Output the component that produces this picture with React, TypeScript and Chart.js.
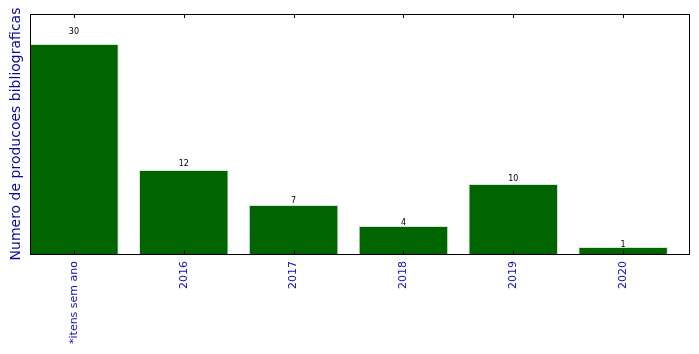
import React, { useEffect, useRef } from "react";
import { Chart, registerables } from "chart.js";

Chart.register(...registerables);

const categories = ["*itens sem ano", "2016", "2017", "2018", "2019", "2020"];
const values = [30, 12, 7, 4, 10, 1];
const yMax = 34.3;

const framePlugin = {
  id: "frame",
  afterDatasetsDraw(chart: any) {
    const { ctx, chartArea } = chart;
    const xs = chart.scales.x;
    const meta = chart.getDatasetMeta(0);
    ctx.save();
    // value labels
    ctx.fillStyle = "#000";
    ctx.font = "8px 'DejaVu Sans'";
    ctx.textAlign = "center";
    ctx.textBaseline = "bottom";
    values.forEach((v, i) => {
      const el = meta.data[i];
      const y = chart.scales.y.getPixelForValue(v * 1.05);
      ctx.fillText(String(v), el.x, y + 2.5);
    });
    // ticks inward
    ctx.strokeStyle = "#000";
    ctx.lineWidth = 1;
    categories.forEach((_, i) => {
      const x = Math.round(xs.getPixelForValue(i)) + 0.5;
      ctx.beginPath();
      ctx.moveTo(x, chartArea.bottom);
      ctx.lineTo(x, chartArea.bottom - 4);
      ctx.moveTo(x, chartArea.top);
      ctx.lineTo(x, chartArea.top + 4);
      ctx.stroke();
    });
    // frame
    ctx.strokeStyle = "#000";
    ctx.lineWidth = 1;
    ctx.strokeRect(
      Math.round(chartArea.left) + 0.5,
      Math.round(chartArea.top) + 0.5,
      Math.round(chartArea.right - chartArea.left),
      Math.round(chartArea.bottom - chartArea.top)
    );
    ctx.restore();
  },
};

export default function App() {
  const ref = useRef<HTMLCanvasElement | null>(null);
  useEffect(() => {
    if (!ref.current) return;
    const chart = new Chart(ref.current, {
      type: "bar",
      data: {
        datasets: [
          {
            data: values.map((v, i) => ({ x: i, y: v })),
            backgroundColor: "#006400",
            borderColor: "#d8e4d8",
            borderWidth: 1,
            borderSkipped: "bottom",
            barPercentage: 0.815,
            categoryPercentage: 1,
          },
        ],
      },
      options: {
        responsive: false,
        animation: false,
        maintainAspectRatio: false,
        layout: { padding: { top: 14, right: 10, left: 0, bottom: 0 } },
        plugins: { legend: { display: false }, tooltip: { enabled: false } },
        scales: {
          x: {
            type: "linear",
            min: -0.4,
            max: 5.6,
            offset: false,
            grid: { display: false, drawTicks: false, offset: false },
            border: { display: false },
            afterBuildTicks: (scale: any) => {
              scale.ticks = categories.map((_, i) => ({ value: i }));
            },
            afterFit: (scale: any) => {
              scale.height = 100;
            },
            ticks: {
              autoSkip: false,
              maxRotation: 90,
              minRotation: 90,
              padding: 7,
              color: "#1010b0",
              font: { family: "'DejaVu Sans'", size: 11 },
              callback: (v: any) => categories[v as number] ?? "",
            },
          },
          y: {
            min: 0,
            max: yMax,
            grid: { display: false, drawTicks: false },
            border: { display: false },
            ticks: { display: false },
            afterFit: (scale: any) => {
              scale.width = 30;
            },
            title: {
              display: true,
              text: "Numero de producoes bibliograficas",
              color: "#0a0a9a",
              font: { family: "'DejaVu Sans'", size: 14 },
              padding: { top: 8, bottom: 0 },
            },
          },
        },
      },
      plugins: [framePlugin],
    });
    return () => chart.destroy();
  }, []);
  return (
    <div style={{ position: "fixed", left: 0, top: 0, width: 699, height: 354, background: "#fff" }}>
      <canvas ref={ref} width={699} height={354} />
    </div>
  );
}
